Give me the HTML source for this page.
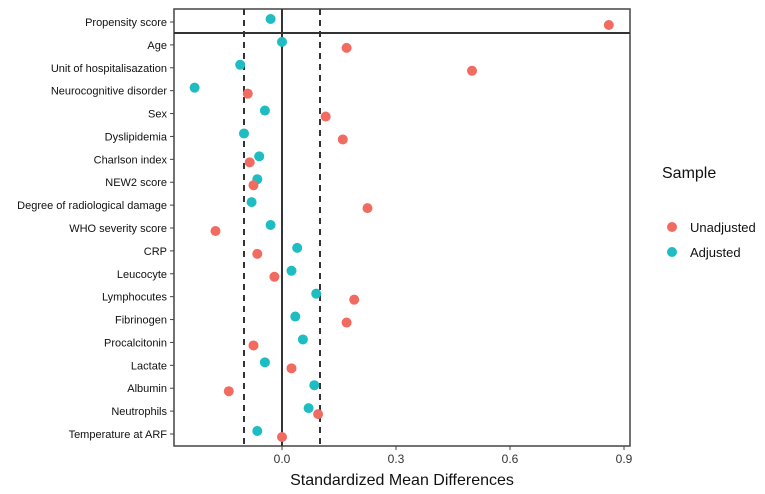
<!DOCTYPE html>
<html><head><meta charset="utf-8"><style>
body{margin:0;background:#fff;}
svg{font-family:"Liberation Sans",sans-serif;display:block}
</style></head><body>
<svg id="c" width="765" height="494"></svg>
<script>
const categories=["Propensity score","Age","Unit of hospitalisazation","Neurocognitive disorder","Sex","Dyslipidemia","Charlson index","NEW2 score","Degree of radiological damage","WHO severity score","CRP","Leucocyte","Lymphocutes","Fibrinogen","Procalcitonin","Lactate","Albumin","Neutrophils","Temperature at ARF"];
const unadjusted=[0.86,0.17,0.5,-0.09,0.115,0.16,-0.085,-0.075,0.225,-0.175,-0.065,-0.02,0.19,0.17,-0.075,0.025,-0.14,0.095,0.0];
const adjusted=[-0.03,0.0,-0.11,-0.23,-0.045,-0.10,-0.06,-0.065,-0.08,-0.03,0.04,0.025,0.09,0.035,0.055,-0.045,0.085,0.07,-0.065];
const xTicks=[0,0.3,0.6,0.9];
const xTickLabels=["0.0","0.3","0.6","0.9"];
const NS="http://www.w3.org/2000/svg";
const svg=document.getElementById('c');
const L=174,R=630,T=9,B=446;
const x=v=>282+v*380;
const y=i=>22+i*(412/18);
function mk(tag,attrs,parent){const e=document.createElementNS(NS,tag);for(const k in attrs)e.setAttribute(k,attrs[k]);(parent||svg).appendChild(e);return e;}
let e=mk('rect',{x:L,y:T,width:R-L,height:B-T,fill:'#fff',stroke:'#444','stroke-width':1.5});


e=mk('line',{x1:L,x2:R,y1:33,y2:33,stroke:'#333','stroke-width':2});


[-0.1,0.1].forEach(v=>{
 const l=mk('line',{x1:x(v),x2:x(v),y1:T,y2:B,stroke:'#333','stroke-width':2,'stroke-dasharray':'6,5'});
 
 
});
e=mk('line',{x1:x(0),x2:x(0),y1:T,y2:B,stroke:'#333','stroke-width':2});


categories.forEach((c,i)=>{
 const t=mk('text',{x:167,y:y(i)+4,'text-anchor':'end','font-size':11,fill:'#111'});t.textContent=c;
 
 
 const tk=mk('line',{x1:170,x2:L,y1:y(i),y2:y(i),stroke:'#444'});
 
 
});
xTicks.forEach((v,i)=>{
 const tk=mk('line',{x1:x(v),x2:x(v),y1:B,y2:B+4,stroke:'#444'});
 
 
 const t=mk('text',{x:x(v),y:B+17,'text-anchor':'middle','font-size':12,fill:'#333'});t.textContent=xTickLabels[i];
 
 
});
adjusted.forEach((v,i)=>{
 const p=mk('circle',{cx:x(v),cy:y(i)-3,r:5,fill:'#1dbdc1'});
 
 
});
unadjusted.forEach((v,i)=>{
 const p=mk('circle',{cx:x(v),cy:y(i)+3,r:5,fill:'#f26b61'});
 
 
});
e=mk('text',{x:402,y:485,'text-anchor':'middle','font-size':16,fill:'#111'});e.textContent="Standardized Mean Differences";


e=mk('text',{x:662,y:178,'font-size':16,fill:'#111'});e.textContent="Sample";


[["Unadjusted","#f26b61",227],["Adjusted","#1dbdc1",252]].forEach(([n,col,yy])=>{
 const c=mk('circle',{cx:672,cy:yy,r:5,fill:col});
 
 
 const t=mk('text',{x:690,y:yy+5,'font-size':13,fill:'#111'});t.textContent=n;
 
 
});
</script>
</body></html>
